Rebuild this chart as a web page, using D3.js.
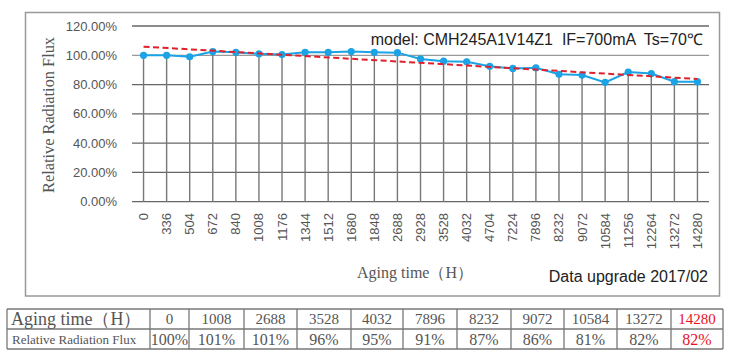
<!DOCTYPE html>
<html>
<head>
<meta charset="utf-8">
<script src="https://cdn.jsdelivr.net/npm/d3@7"></script>
<style>
  body { margin: 0; background: #fff; }
  svg { display: block; }
</style>
</head>
<body>
<svg id="chart" width="747" height="361"></svg>
<script>
// aging hours on the x axis
const hours = ["0", "336", "504", "672", "840", "1008", "1176", "1344", "1512", "1680", "1848",
  "2688", "2928", "3528", "4032", "4704", "7224", "7896", "8232", "9072", "10584", "11256",
  "12264", "13272", "14280"];
// relative radiation flux, %
const flux = [100, 100, 99, 102.5, 102, 101, 100.5, 102, 102, 102.5, 102, 101.8, 97.5, 96,
  95.5, 92.5, 91, 91.5, 87, 86.5, 81.5, 88.5, 87.5, 82, 82];
// dashed trend line, value at first and last hour
const trendEnds = [105.9, 83.8];
const yTicks = [0, 20, 40, 60, 80, 100, 120];

// summary table under the chart
const tableHours = ["0", "1008", "2688", "3528", "4032", "7896", "8232", "9072", "10584", "13272", "14280"];
const tableFlux = ["100%", "101%", "101%", "96%", "95%", "91%", "87%", "86%", "81%", "82%", "82%"];
const tableCols = [7, 150, 189, 244, 297, 351, 403, 457, 511, 564, 617, 671, 723];

const svg = d3.select("#chart");
const sans = "'Liberation Sans', Arial, sans-serif";
const serif = "'Liberation Serif', 'Times New Roman', serif";

const plot = { left: 132, right: 709, top: 26, bottom: 201.7 };

// chart frame
svg.append("rect")
  .attr("x", 25.5).attr("y", 12.5).attr("width", 694).attr("height", 283.5)
  .attr("fill", "none").attr("stroke", "#999").attr("stroke-width", 1.5);

const x = d3.scalePoint().domain(hours).range([plot.left, plot.right]).padding(0.5);
const y = d3.scaleLinear().domain([0, 120]).range([plot.bottom, plot.top]);

// horizontal gridlines
svg.append("g")
  .selectAll("line")
  .data(yTicks)
  .join("line")
  .attr("x1", plot.left).attr("x2", plot.right)
  .attr("y1", d => y(d)).attr("y2", d => y(d))
  .attr("stroke", d => d === 100 ? "#999" : "#666")
  .attr("stroke-width", 1.3);

// y tick labels
svg.append("g")
  .selectAll("text")
  .data(yTicks)
  .join("text")
  .attr("x", 117).attr("y", d => y(d) + 4.5)
  .attr("text-anchor", "end")
  .attr("font-family", sans).attr("font-size", 13).attr("fill", "#555")
  .text(d => d.toFixed(2) + "%");

// drop lines from each point to the axis
svg.append("g")
  .selectAll("line")
  .data(flux)
  .join("line")
  .attr("x1", (d, i) => x(hours[i])).attr("x2", (d, i) => x(hours[i]))
  .attr("y1", d => y(d)).attr("y2", plot.bottom)
  .attr("stroke", "#777").attr("stroke-width", 1.4);

// x tick labels, rotated
svg.append("g")
  .selectAll("text")
  .data(hours)
  .join("text")
  .attr("transform", d => "translate(" + (x(d) + 4.5) + ",213) rotate(-90)")
  .attr("text-anchor", "end")
  .attr("font-family", sans).attr("font-size", 13).attr("fill", "#555")
  .text(d => d);

// data line
const line = d3.line()
  .x((d, i) => x(hours[i]))
  .y(d => y(d));

svg.append("path")
  .datum(flux)
  .attr("d", line)
  .attr("fill", "none")
  .attr("stroke", "#1ba3e6")
  .attr("stroke-width", 2);

svg.append("g")
  .selectAll("circle")
  .data(flux)
  .join("circle")
  .attr("cx", (d, i) => x(hours[i]))
  .attr("cy", d => y(d))
  .attr("r", 3.6)
  .attr("fill", "#1ba3e6");

// trend line
svg.append("line")
  .attr("x1", x(hours[0])).attr("y1", y(trendEnds[0]))
  .attr("x2", x(hours[hours.length - 1])).attr("y2", y(trendEnds[1]))
  .attr("stroke", "#e0202a").attr("stroke-width", 2)
  .attr("stroke-dasharray", "6,3.5");

// texts
svg.append("text")
  .attr("x", 703).attr("y", 45)
  .attr("text-anchor", "end")
  .attr("font-family", sans).attr("font-size", 16).attr("fill", "#222")
  .attr("xml:space", "preserve")
  .text("model: CMH245A1V14Z1  IF=700mA  Ts=70\u2103");

svg.append("text")
  .attr("transform", "translate(54,115) rotate(-90)")
  .attr("text-anchor", "middle")
  .attr("font-family", serif).attr("font-size", 17).attr("fill", "#555")
  .attr("textLength", 156).attr("lengthAdjust", "spacingAndGlyphs")
  .text("Relative Radiation Flux");

svg.append("text")
  .attr("x", 415).attr("y", 278)
  .attr("text-anchor", "middle")
  .attr("font-family", serif).attr("font-size", 16).attr("fill", "#555")
  .text("Aging time\uff08H\uff09");

svg.append("text")
  .attr("x", 708).attr("y", 282)
  .attr("text-anchor", "end")
  .attr("font-family", sans).attr("font-size", 16).attr("fill", "#222")
  .text("Data upgrade 2017/02");

// table
const tTop = 309, tMid = 329, tBot = 349;
const table = svg.append("g");

table.selectAll("line.v")
  .data(tableCols)
  .join("line")
  .attr("x1", d => d).attr("x2", d => d)
  .attr("y1", tTop).attr("y2", tBot)
  .attr("stroke", "#777").attr("stroke-width", 1.3);

table.selectAll("line.h")
  .data([tTop, tMid, tBot])
  .join("line")
  .attr("x1", tableCols[0]).attr("x2", tableCols[tableCols.length - 1])
  .attr("y1", d => d).attr("y2", d => d)
  .attr("stroke", "#777").attr("stroke-width", 1.3);

const cellX = i => (tableCols[i] + tableCols[i + 1]) / 2;

table.append("text")
  .attr("x", 11).attr("y", tMid - 4)
  .attr("font-family", serif).attr("font-size", 18).attr("fill", "#555")
  .text("Aging time\uff08H\uff09");

table.append("text")
  .attr("x", 12).attr("y", tBot - 5)
  .attr("font-family", serif).attr("font-size", 13).attr("fill", "#555")
  .text("Relative Radiation Flux");

table.selectAll("text.h")
  .data(tableHours)
  .join("text")
  .attr("x", (d, i) => cellX(i + 1)).attr("y", tMid - 5)
  .attr("text-anchor", "middle")
  .attr("font-family", serif).attr("font-size", 15)
  .attr("fill", (d, i) => i === tableHours.length - 1 ? "#e8101e" : "#555")
  .text(d => d);

table.selectAll("text.f")
  .data(tableFlux)
  .join("text")
  .attr("x", (d, i) => cellX(i + 1)).attr("y", tBot - 4)
  .attr("text-anchor", "middle")
  .attr("font-family", serif).attr("font-size", 16)
  .attr("fill", (d, i) => i === tableFlux.length - 1 ? "#e8101e" : "#555")
  .text(d => d);
</script>
</body>
</html>
